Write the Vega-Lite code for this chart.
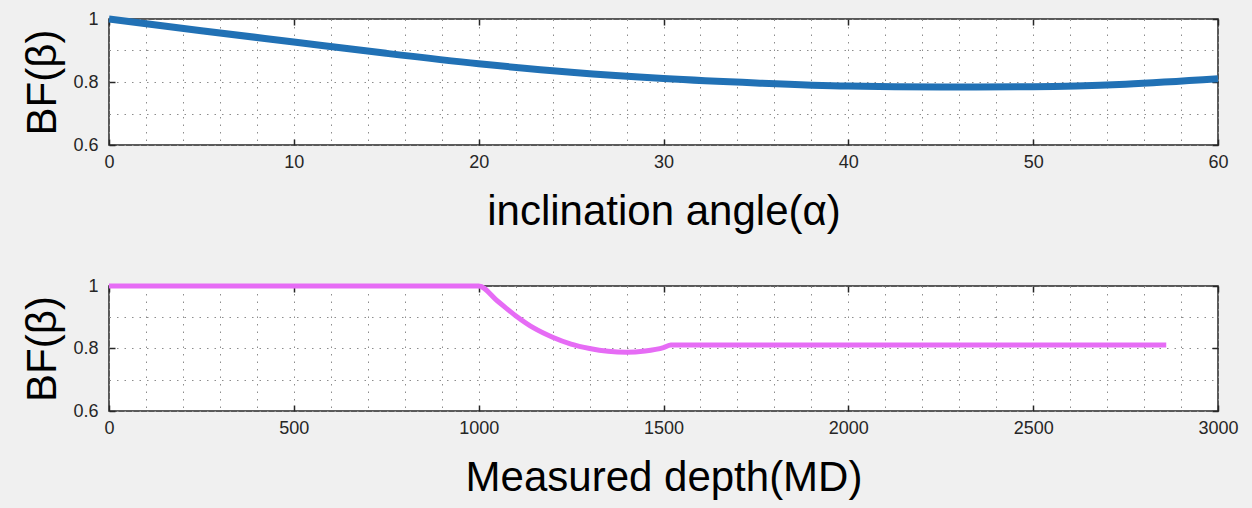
{
  "$schema": "https://vega.github.io/schema/vega-lite/v6.json",
  "background": "#f0f0f0",
  "padding": {"left": 21, "top": 4, "right": 35, "bottom": 10},
  "spacing": 42,
  "config": {
    "font": "Liberation Sans",
    "view": {"fill": "white", "stroke": "#262626", "strokeWidth": 1.5},
    "axis": {
      "labelFont": "Liberation Sans",
      "labelFontSize": 18,
      "labelColor": "#262626",
      "labelFlush": false,
      "labelOverlap": false,
      "titleFont": "Liberation Sans",
      "titleFontSize": 42,
      "titleFontWeight": "normal",
      "titleColor": "#000000",
      "domain": false,
      "gridColor": "#8c8c8c",
      "gridDash": [1.5, 6],
      "gridWidth": 1,
      "tickColor": "#262626",
      "tickWidth": 1.5
    }
  },
  "vconcat": [
    {
      "width": 1109,
      "height": 126,
      "data": {"values": [
        {"alpha": 0, "bf": 1.0},
        {"alpha": 5, "bf": 0.963},
        {"alpha": 10, "bf": 0.927},
        {"alpha": 15, "bf": 0.891},
        {"alpha": 20, "bf": 0.858},
        {"alpha": 25, "bf": 0.831},
        {"alpha": 30, "bf": 0.811},
        {"alpha": 35, "bf": 0.797},
        {"alpha": 40, "bf": 0.787},
        {"alpha": 45, "bf": 0.784},
        {"alpha": 50, "bf": 0.785},
        {"alpha": 55, "bf": 0.793},
        {"alpha": 60, "bf": 0.81}
      ]},
      "layer": [
        {
          "mark": {"type": "line", "color": "#2171b5", "strokeWidth": 7, "interpolate": "monotone", "clip": false},
          "encoding": {
            "x": {
              "field": "alpha", "type": "quantitative",
              "scale": {"domain": [0, 60], "nice": false, "zero": false},
              "axis": {
                "orient": "bottom",
                "values": [0,2,4,6,8,10,12,14,16,18,20,22,24,26,28,30,32,34,36,38,40,42,44,46,48,50,52,54,56,58,60],
                "labelExpr": "datum.value % 10 === 0 ? datum.label : ''",
                "grid": true,
                "tickSize": -6,
                "tickOpacity": {"condition": {"test": "datum.value % 10 === 0", "value": 1}, "value": 0},
                "labelPadding": 14,
                "title": "inclination angle(α)",
                "titlePadding": 20
              }
            },
            "y": {
              "field": "bf", "type": "quantitative",
              "scale": {"domain": [0.6, 1], "nice": false, "zero": false},
              "axis": {
                "orient": "left",
                "values": [0.6, 0.7, 0.8, 0.9, 1],
                "format": ".1~f",
                "labelExpr": "round(datum.value * 10) % 2 === 0 ? datum.label : ''",
                "grid": true,
                "tickSize": -6,
                "tickOpacity": {"condition": {"test": "round(datum.value * 10) % 2 === 0", "value": 1}, "value": 0},
                "labelPadding": 17,
                "title": "BF(β)",
                "titlePadding": 8
              }
            }
          }
        },
        {
          "mark": {"type": "line", "opacity": 0},
          "encoding": {
            "x": {
              "field": "alpha", "type": "quantitative",
              "scale": {"domain": [0, 60], "nice": false, "zero": false},
              "axis": {"orient": "top", "values": [0,10,20,30,40,50,60], "labels": false, "grid": false, "tickSize": -6, "title": null}
            },
            "y": {
              "field": "bf", "type": "quantitative",
              "scale": {"domain": [0.6, 1], "nice": false, "zero": false},
              "axis": {"orient": "right", "values": [0.6, 0.8, 1], "labels": false, "grid": false, "tickSize": -6, "title": null}
            }
          }
        }
      ],
      "resolve": {"scale": {"x": "independent", "y": "independent"}}
    },
    {
      "width": 1109,
      "height": 125,
      "data": {"values": [
        {"md": 0, "bf": 1.0},
        {"md": 1000, "bf": 1.0},
        {"md": 1050, "bf": 0.953},
        {"md": 1100, "bf": 0.905},
        {"md": 1150, "bf": 0.865},
        {"md": 1200, "bf": 0.836},
        {"md": 1250, "bf": 0.814},
        {"md": 1300, "bf": 0.8},
        {"md": 1350, "bf": 0.791},
        {"md": 1400, "bf": 0.788},
        {"md": 1450, "bf": 0.792},
        {"md": 1500, "bf": 0.803},
        {"md": 1520, "bf": 0.811},
        {"md": 2860, "bf": 0.811}
      ]},
      "layer": [
        {
          "mark": {"type": "line", "color": "#e66cf5", "strokeWidth": 5, "interpolate": "monotone", "clip": false},
          "encoding": {
            "x": {
              "field": "md", "type": "quantitative",
              "scale": {"domain": [0, 3000], "nice": false, "zero": false},
              "axis": {
                "orient": "bottom",
                "values": [0,100,200,300,400,500,600,700,800,900,1000,1100,1200,1300,1400,1500,1600,1700,1800,1900,2000,2100,2200,2300,2400,2500,2600,2700,2800,2900,3000],
                "labelExpr": "datum.value % 500 === 0 ? datum.label : ''",
                "format": "d",
                "grid": true,
                "tickSize": -6,
                "tickOpacity": {"condition": {"test": "datum.value % 500 === 0", "value": 1}, "value": 0},
                "labelPadding": 14,
                "title": "Measured depth(MD)",
                "titlePadding": 20
              }
            },
            "y": {
              "field": "bf", "type": "quantitative",
              "scale": {"domain": [0.6, 1], "nice": false, "zero": false},
              "axis": {
                "orient": "left",
                "values": [0.6, 0.7, 0.8, 0.9, 1],
                "format": ".1~f",
                "labelExpr": "round(datum.value * 10) % 2 === 0 ? datum.label : ''",
                "grid": true,
                "tickSize": -6,
                "tickOpacity": {"condition": {"test": "round(datum.value * 10) % 2 === 0", "value": 1}, "value": 0},
                "labelPadding": 17,
                "title": "BF(β)",
                "titlePadding": 8
              }
            }
          }
        },
        {
          "mark": {"type": "line", "opacity": 0},
          "encoding": {
            "x": {
              "field": "md", "type": "quantitative",
              "scale": {"domain": [0, 3000], "nice": false, "zero": false},
              "axis": {"orient": "top", "values": [0,500,1000,1500,2000,2500,3000], "labels": false, "grid": false, "tickSize": -6, "title": null}
            },
            "y": {
              "field": "bf", "type": "quantitative",
              "scale": {"domain": [0.6, 1], "nice": false, "zero": false},
              "axis": {"orient": "right", "values": [0.6, 0.8, 1], "labels": false, "grid": false, "tickSize": -6, "title": null}
            }
          }
        }
      ],
      "resolve": {"scale": {"x": "independent", "y": "independent"}}
    }
  ]
}
